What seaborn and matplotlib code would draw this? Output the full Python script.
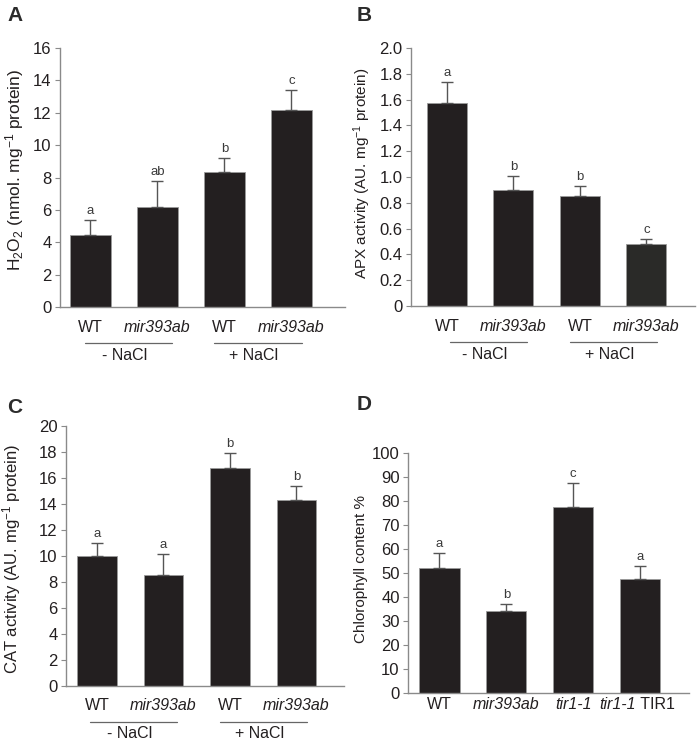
import numpy as np
import pandas as pd
import matplotlib
matplotlib.use("Agg")
import matplotlib.pyplot as plt
import seaborn as sns
from matplotlib.transforms import blended_transform_factory, offset_copy
from matplotlib.ticker import FuncFormatter, MultipleLocator

# ---------------- data ----------------
cat_ids = ["WT -NaCl", "mir393ab -NaCl", "WT +NaCl", "mir393ab +NaCl"]
tick_labels_abc = ["WT", "mir393ab", "WT", "mir393ab"]
italic_abc = [False, True, False, True]
group_labels = ["- NaCl", "+ NaCl"]

h2o2_values = [4.45, 6.2, 8.35, 12.2]
h2o2_err = [0.9, 1.6, 0.85, 1.2]
h2o2_letters = ["a", "ab", "b", "c"]

apx_values = [1.57, 0.90, 0.85, 0.48]
apx_err = [0.17, 0.11, 0.08, 0.04]
apx_letters = ["a", "b", "b", "c"]

cat_values = [10.0, 8.55, 16.8, 14.3]
cat_err = [1.0, 1.6, 1.15, 1.05]
cat_letters = ["a", "a", "b", "b"]

d_ids = ["WT", "mir393ab", "tir1-1", "tir1-1 TIR1"]
d_tick_labels = ["WT", "mir393ab", "tir1-1", ""]
d_italic = [False, True, True, False]
d_last_label = ("tir1-1", " TIR1")
chl_values = [52.0, 34.0, 77.5, 47.5]
chl_err = [6.5, 3.0, 10.0, 5.5]
chl_letters = ["a", "b", "c", "a"]

# ---------------- style ----------------
sns.set_theme(style="ticks")
plt.rcParams["font.family"] = ["Liberation Sans", "DejaVu Sans"]
plt.rcParams["mathtext.fontset"] = "custom"
plt.rcParams["mathtext.rm"] = "Liberation Sans"
plt.rcParams["mathtext.it"] = "Liberation Sans:italic"
plt.rcParams["mathtext.bf"] = "Liberation Sans:bold"
plt.rcParams["mathtext.default"] = "regular"

TXT = "#231f20"
BAR = "#231f20"
SPINE = "#8a8a8a"
ERR = "#555555"

W, H = 700, 744
fig = plt.figure(figsize=(W / 100, H / 100), dpi=100)


def add_ax(left, top, right, bottom):
    return fig.add_axes([left / W, 1 - bottom / H, (right - left) / W, (bottom - top) / H])


def panel(box, xlim, ids, labels, italic, values, errs, letters, ylim, ystep, ylabel,
          label_xy, ylabel_size=11, fmt=None, colors=None, groups=None, xpad=9):
    ax = add_ax(*box)
    df = pd.DataFrame({"cat": ids, "val": values})
    if colors is None:
        colors = [BAR] * len(ids)
    sns.barplot(data=df, x="cat", y="val", hue="cat", palette=colors, legend=False,
                order=ids, width=0.6, errorbar=None, ax=ax, saturation=1,
                edgecolor="#9a9a9a", linewidth=0.6, zorder=2)
    xs = [p.get_x() + p.get_width() / 2 for p in ax.patches]
    ax.errorbar(xs, values, yerr=[np.zeros(len(values)), errs], fmt="none",
                ecolor=ERR, elinewidth=1.0, capsize=4.5, capthick=1.0, zorder=3)
    for x, v, e, t in zip(xs, values, errs, letters):
        ax.annotate(t, (x, v + e), xytext=(0, 3), textcoords="offset pixels",
                    ha="center", va="bottom", fontsize=9.5, color="#3a3a3a")
    ax.set_xlim(*xlim)
    ax.set_ylim(*ylim)
    ax.yaxis.set_major_locator(MultipleLocator(ystep))
    if fmt is not None:
        ax.yaxis.set_major_formatter(FuncFormatter(fmt))
    ax.set_xticks(range(len(ids)))
    ax.set_xticklabels(labels)
    for tl, it in zip(ax.get_xticklabels(), italic):
        tl.set_fontstyle("italic" if it else "normal")
    ax.set_xlabel("")
    ax.set_ylabel(ylabel, fontsize=ylabel_size, color=TXT)
    ax.yaxis.set_label_coords(*label_xy)
    for s in ["top", "right"]:
        ax.spines[s].set_visible(False)
    for s in ["left", "bottom"]:
        ax.spines[s].set_color(SPINE)
        ax.spines[s].set_linewidth(1.0)
    ax.tick_params(axis="y", length=3.5, width=0.8, color=SPINE, pad=2.5,
                   labelsize=12, labelcolor=TXT)
    ax.tick_params(axis="x", length=0, pad=xpad, labelsize=11.5, labelcolor=TXT)
    ax.set_facecolor("white")
    if groups is not None:
        base = blended_transform_factory(ax.transData, ax.transAxes)
        ltr = offset_copy(base, fig=fig, x=0, y=-36, units="dots")
        ttr = offset_copy(base, fig=fig, x=0, y=-48, units="dots")
        for (x0, x1), g in zip(groups, group_labels):
            ax.plot([x0, x1], [0, 0], transform=ltr, clip_on=False,
                    color="#666666", lw=0.9)
            ax.text((x0 + x1) / 2 - 0.06, 0, g, transform=ttr, ha="center",
                    va="center", fontsize=11.5, color=TXT)
    return ax, xs


def dec_fmt(v, pos):
    return "0" if abs(v) < 1e-9 else f"{v:.1f}"


def int_fmt(v, pos):
    return f"{v:.0f}"


panel((60, 48, 345, 307), (-0.455, 3.8), cat_ids, tick_labels_abc, italic_abc,
      h2o2_values, h2o2_err, h2o2_letters, (0, 16), 2,
      r"H$_2$O$_2$ (nmol. mg$^{-1}$ protein)", (-0.118, 0.53), ylabel_size=12.5,
      fmt=int_fmt, groups=[(-0.08, 1.22), (1.84, 3.16)])

panel((411, 48, 695, 306), (-0.54, 3.73), cat_ids, tick_labels_abc,
      italic_abc, apx_values, apx_err, apx_letters, (0, 2.0), 0.2,
      r"APX activity (AU. mg$^{-1}$ protein)", (-0.134, 0.515), fmt=dec_fmt,
      colors=[BAR, BAR, BAR, "#2a2a28"],
      groups=[(0.05, 1.2), (1.85, 3.16)])

panel((66, 426, 344, 686), (-0.466, 3.715), cat_ids, tick_labels_abc, italic_abc,
      cat_values, cat_err, cat_letters, (0, 20), 2,
      r"CAT activity (AU. mg$^{-1}$ protein)", (-0.155, 0.49), ylabel_size=12,
      fmt=int_fmt, groups=[(-0.1, 1.2), (1.85, 3.16)])

axd, xsd = panel((408, 453, 689, 693), (-0.47, 3.73), d_ids, d_tick_labels, d_italic,
                 chl_values, chl_err, chl_letters, (0, 100), 10,
                 "Chlorophyll content %", (-0.143, 0.515), fmt=int_fmt, xpad=3)

# mixed-style last tick label of panel D
btr = blended_transform_factory(axd.transData, axd.transAxes)
axd.annotate(d_last_label[0], (xsd[3], 0), xycoords=btr, xytext=(-4, -4),
             textcoords="offset pixels", ha="right", va="top", fontsize=11.5,
             fontstyle="italic", color=TXT, annotation_clip=False)
axd.annotate(d_last_label[1], (xsd[3], 0), xycoords=btr, xytext=(-4, -4),
             textcoords="offset pixels", ha="left", va="top", fontsize=11.5,
             color=TXT, annotation_clip=False)

for t, (x, y) in zip(["A", "B", "C", "D"], [(7, 6), (357, 6), (7, 398), (357, 395)]):
    fig.text(x / W, 1 - y / H, t, ha="left", va="top", fontsize=15,
             fontweight="bold", color="#2b2b2b")

fig.savefig("out.png", dpi=100, facecolor="white")
